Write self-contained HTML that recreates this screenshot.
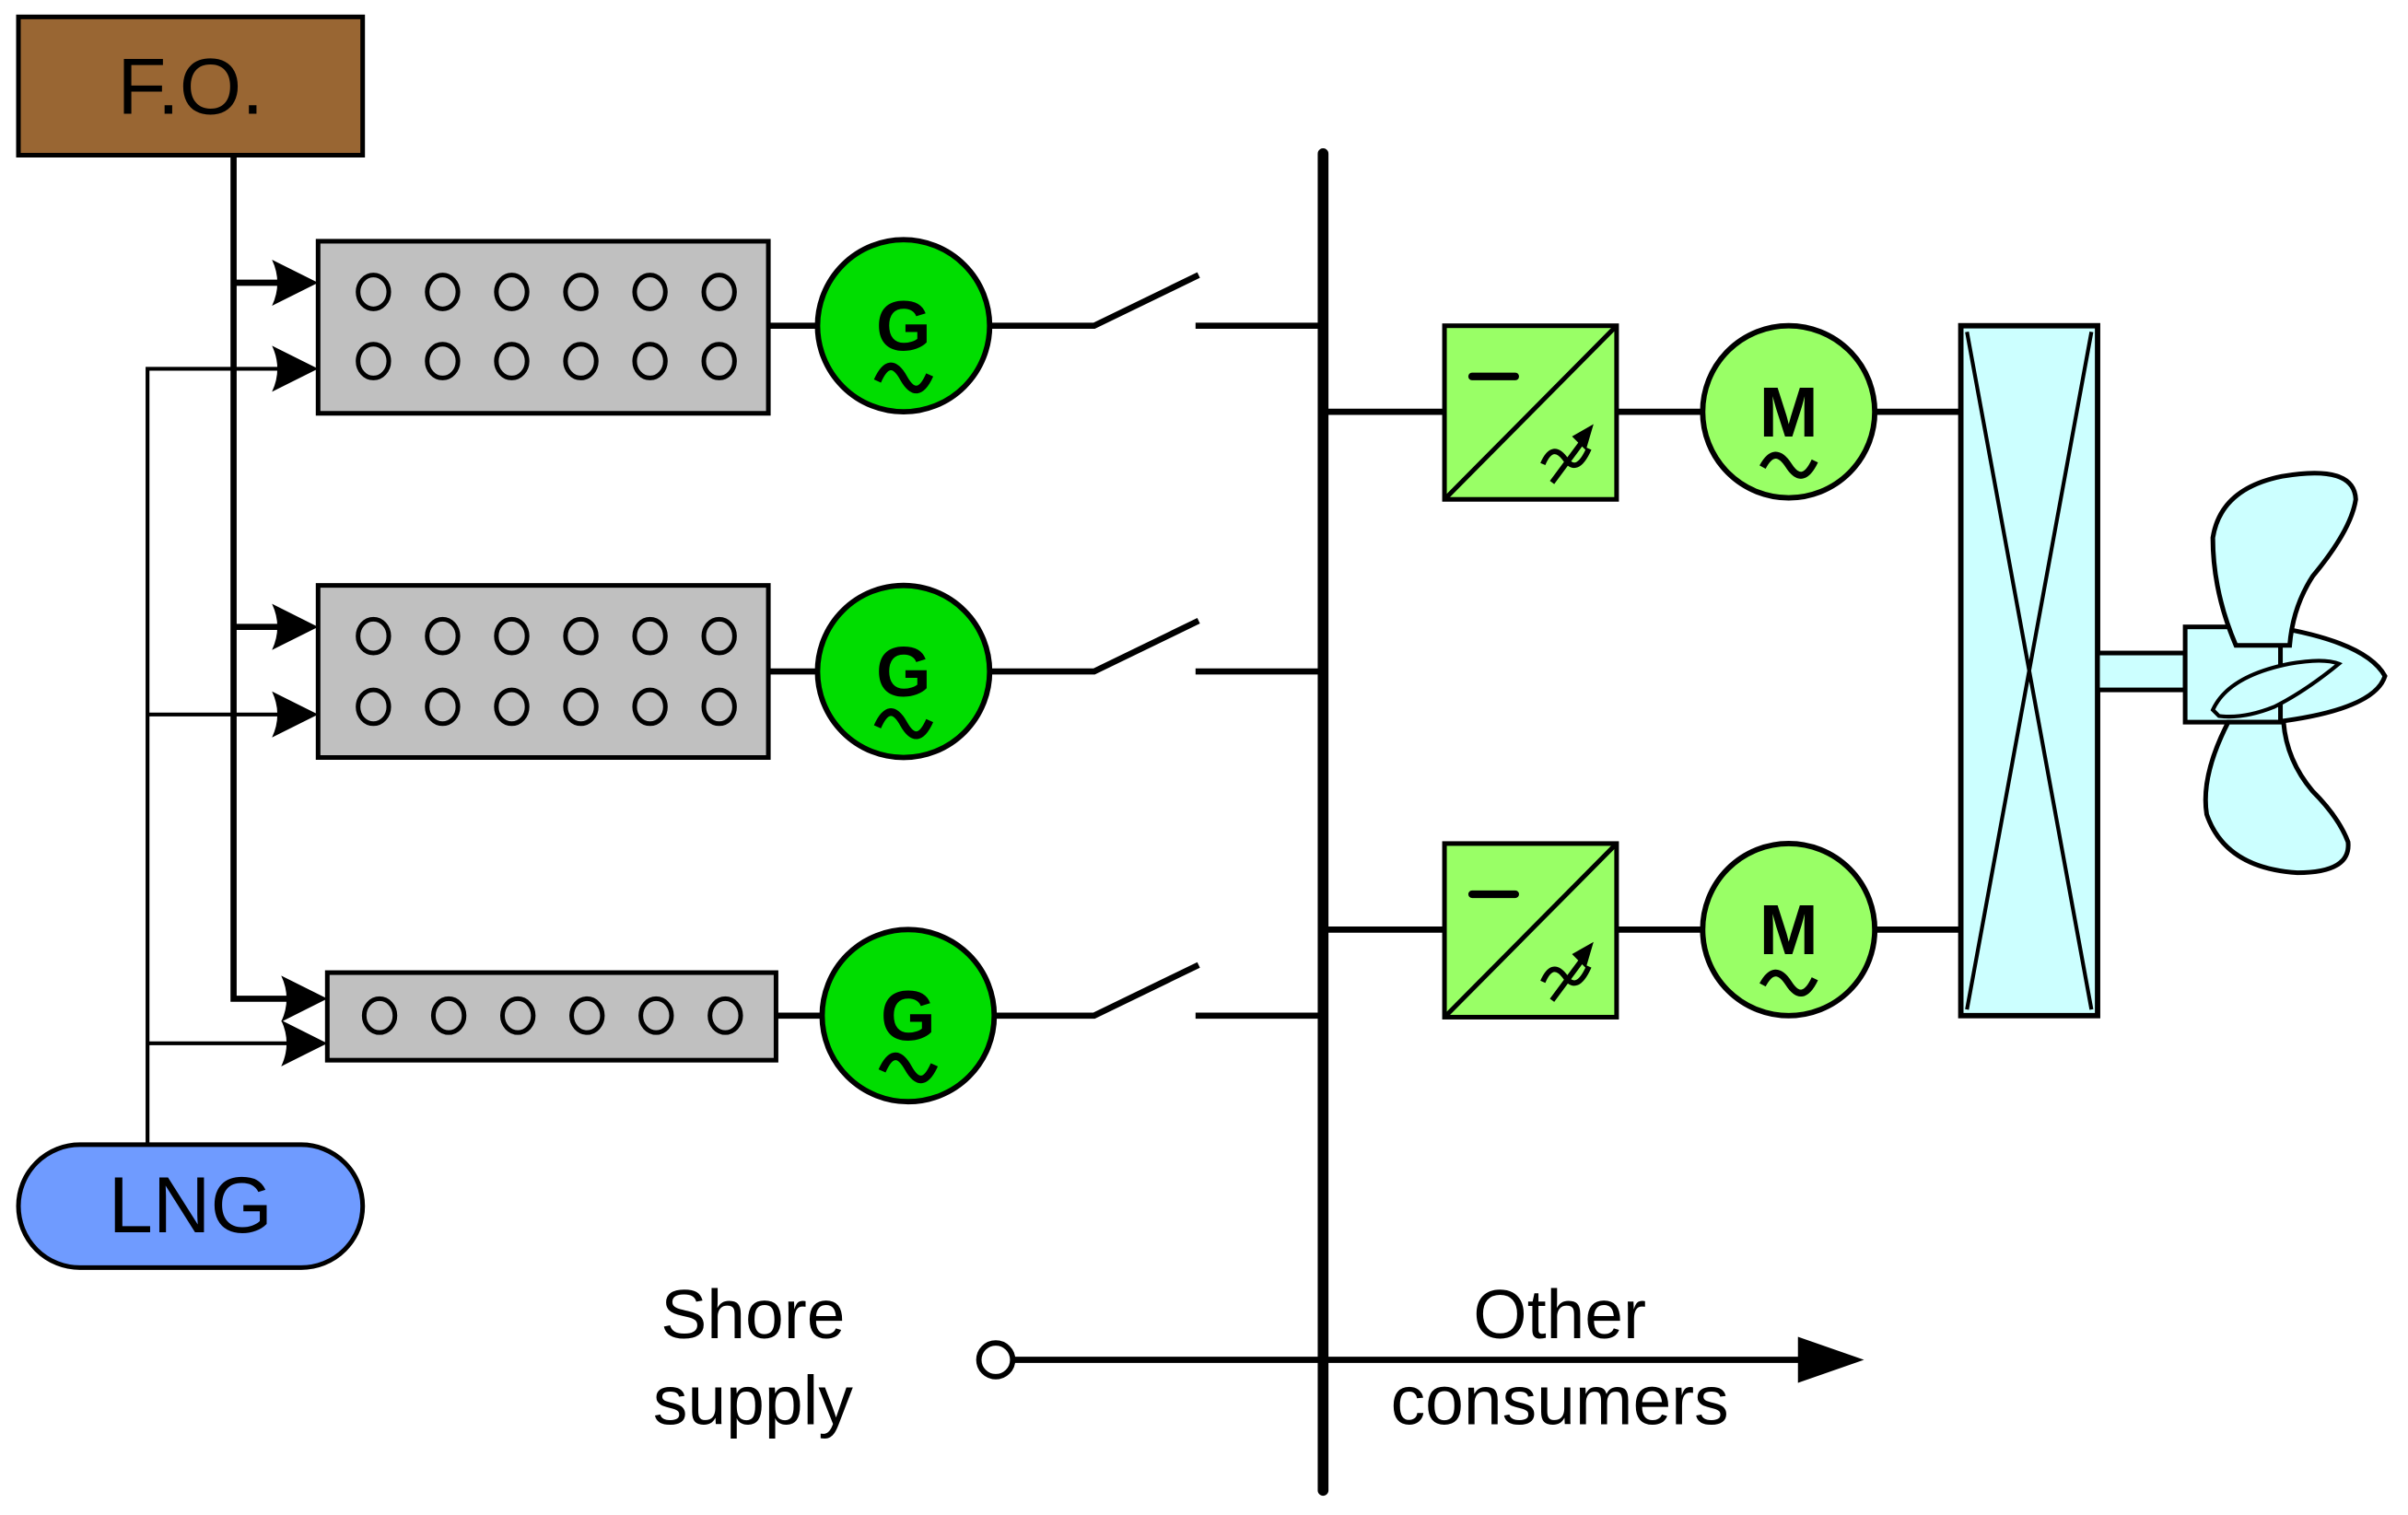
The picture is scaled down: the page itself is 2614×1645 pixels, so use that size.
<!DOCTYPE html>
<html><head><meta charset="utf-8"><style>html,body{margin:0;padding:0;background:#fff}svg{display:block}</style></head>
<body>
<svg width="2614" height="1645" viewBox="0 0 1567 986" preserveAspectRatio="none" xmlns="http://www.w3.org/2000/svg" font-family="Liberation Sans, Arial, sans-serif">
<defs>
<path id="ah" d="M0,0 L-30,-15 Q-23,0 -30,15 Z" fill="#000"/>
</defs>
<g stroke="#000" stroke-width="3" fill="none">
<path d="M152,101 V650 H190" stroke-width="4"/>
<path d="M152,184 H185 M152,408 H185" stroke-width="4"/>
<path d="M96,745 V240 H185 M96,465 H185 M96,679 H192" stroke-width="2.5"/>
</g>
<use href="#ah" x="207" y="184"/><use href="#ah" x="207" y="240"/>
<use href="#ah" x="207" y="408"/><use href="#ah" x="207" y="465"/>
<use href="#ah" x="213" y="650"/><use href="#ah" x="213" y="679"/>

<rect x="12" y="11" width="224" height="90" fill="#996633" stroke="#000" stroke-width="3"/>
<text x="124" y="74" font-size="52" text-anchor="middle">F.O.</text>
<rect x="12" y="745" width="224" height="80" rx="40" fill="#6f9bff" stroke="#000" stroke-width="3"/>
<text x="124" y="802" font-size="52" text-anchor="middle">LNG</text>

<g stroke="#000" stroke-width="3" fill="#c0c0c0">
<rect x="207" y="157" width="293" height="112"/>
<rect x="207" y="381" width="293" height="112"/>
<rect x="213" y="633" width="292" height="57"/>
</g>
<g stroke="#000" stroke-width="3" fill="none">
<g id="row"><ellipse cx="243" cy="190" rx="10" ry="11"/><ellipse cx="288" cy="190" rx="10" ry="11"/><ellipse cx="333" cy="190" rx="10" ry="11"/><ellipse cx="378" cy="190" rx="10" ry="11"/><ellipse cx="423" cy="190" rx="10" ry="11"/><ellipse cx="468" cy="190" rx="10" ry="11"/></g>
<use href="#row" y="45"/><use href="#row" y="224"/><use href="#row" y="270"/><use href="#row" x="4" y="471"/>
</g>

<g stroke="#000" stroke-width="4" fill="none">
<path d="M500,212 H532 M644,212 H712 L780,179 M778,212 H861"/>
<path d="M500,437 H532 M644,437 H712 L780,404 M778,437 H861"/>
<path d="M505,661 H535 M647,661 H712 L780,628 M778,661 H861"/>
<path d="M861,268 H940 M1052,268 H1108 M1220,268 H1276"/>
<path d="M861,605 H940 M1052,605 H1108 M1220,605 H1276"/>
<path d="M660,885 H1175"/>
</g>
<path d="M1213,885 L1170,870 L1170,900 Z" fill="#000"/>
<circle cx="648" cy="885" r="11" fill="#fff" stroke="#000" stroke-width="3.5"/>
<line x1="861" y1="100" x2="861" y2="970" stroke="#000" stroke-width="7" stroke-linecap="round"/>

<g id="gen">
<circle cx="588" cy="212" r="56" fill="#00dd00" stroke="#000" stroke-width="3.5"/>
<text x="588" y="228" font-size="46" font-weight="bold" text-anchor="middle">G</text>
<path d="M571,248 Q579,230 588,246 Q597,262 605,244" stroke="#000" stroke-width="5" fill="none"/>
</g>
<use href="#gen" y="225"/><use href="#gen" x="3" y="449"/>

<g id="cm">
<rect x="940" y="212" width="112" height="113" fill="#99ff66" stroke="#000" stroke-width="3"/>
<path d="M940,325 L1052,212" stroke="#000" stroke-width="3"/>
<path d="M958,245 H986" stroke="#000" stroke-width="5" stroke-linecap="round"/>
<path d="M1004,302 Q1010,288 1018,298 Q1026,310 1034,292 M1010,314 L1033,283" stroke="#000" stroke-width="3.5" fill="none"/>
<path d="M1037,276 L1023,284 L1032,293 Z" fill="#000"/>
<circle cx="1164" cy="268" r="56" fill="#99ff66" stroke="#000" stroke-width="3.5"/>
<text x="1164" y="284" font-size="46" font-weight="bold" text-anchor="middle">M</text>
<path d="M1147,304 Q1155,289 1164,303 Q1173,317 1181,300" stroke="#000" stroke-width="4.5" fill="none"/>
</g>
<use href="#cm" y="337"/>

<rect x="1276" y="212" width="89" height="449" fill="#ccffff" stroke="#000" stroke-width="3.5"/>
<path d="M1280,216 L1361,657 M1361,216 L1280,657" stroke="#000" stroke-width="2.5"/>
<rect x="1365" y="425" width="57" height="24" fill="#ccffff" stroke="#000" stroke-width="3"/>

<g fill="#ccffff" stroke="#000" stroke-width="3">
<path d="M1480,408 Q1540,418 1552,440 Q1545,462 1480,470 Z"/>
<rect x="1422" y="408" width="62" height="62"/>
<path d="M1455,420 Q1440,385 1440,350 Q1445,318 1485,310 Q1532,302 1533,325 Q1530,345 1505,375 Q1492,395 1490,420 Z"/>
<path d="M1450,470 Q1432,505 1436,530 Q1448,565 1495,568 Q1530,568 1528,548 Q1522,532 1505,515 Q1488,495 1486,470 Z"/>
<path d="M1440,462 Q1450,440 1490,432 Q1512,428 1522,432 Q1500,450 1480,460 Q1460,468 1444,466 Z" stroke-width="2.5"/>
</g>

<text x="490" y="871" font-size="45" text-anchor="middle">Shore</text>
<text x="490" y="927" font-size="45" text-anchor="middle">supply</text>
<text x="1015" y="871" font-size="45" text-anchor="middle">Other</text>
<text x="1015" y="927" font-size="45" text-anchor="middle">consumers</text>
</svg>
</body></html>
